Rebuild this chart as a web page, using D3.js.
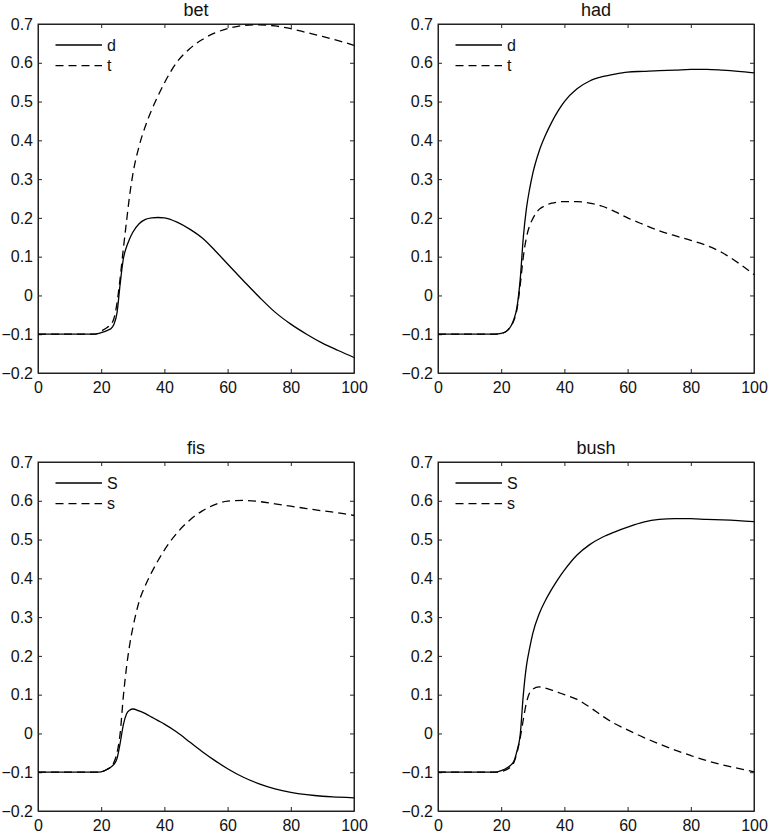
<!DOCTYPE html>
<html>
<head>
<meta charset="utf-8">
<script src="https://cdn.jsdelivr.net/npm/d3@7"></script>
<style>
  body { margin: 0; background: #fff; }
  svg { display: block; font-family: "Liberation Sans", Arial, sans-serif; }
</style>
</head>
<body>
<div id="chart"></div>
<script>
// shared x grid of the sampled points
const xs = [0, 18, 20, 22, 23, 24, 25, 26, 27, 28, 29, 30, 32, 34, 36, 38, 40, 44, 48, 52, 56, 60, 65, 70, 75, 80, 85, 90, 95, 100];

const betD = [-0.1, -0.1, -0.096, -0.09, -0.086, -0.075, -0.045, 0.03, 0.094, 0.125, 0.146, 0.163, 0.185, 0.196, 0.2, 0.201, 0.2, 0.189, 0.171, 0.148, 0.116, 0.081, 0.038, -0.004, -0.043, -0.074, -0.1, -0.123, -0.142, -0.16];
const betT = [-0.1, -0.1, -0.092, -0.082, -0.075, -0.06, -0.02, 0.045, 0.12, 0.19, 0.258, 0.312, 0.385, 0.437, 0.479, 0.515, 0.548, 0.602, 0.636, 0.66, 0.677, 0.688, 0.696, 0.698, 0.695, 0.688, 0.678, 0.668, 0.657, 0.645];

const hadD = [-0.1, -0.1, -0.098, -0.09, -0.08, -0.062, -0.03, 0.04, 0.15, 0.225, 0.275, 0.315, 0.372, 0.413, 0.447, 0.476, 0.5, 0.533, 0.553, 0.564, 0.571, 0.576, 0.578, 0.58, 0.581, 0.583, 0.583, 0.581, 0.578, 0.574];
const hadT = [-0.1, -0.1, -0.098, -0.09, -0.08, -0.065, -0.035, 0.025, 0.1, 0.15, 0.18, 0.198, 0.222, 0.232, 0.238, 0.241, 0.242, 0.242, 0.238, 0.23, 0.216, 0.2, 0.183, 0.167, 0.154, 0.142, 0.129, 0.11, 0.084, 0.054];

const fisS = [-0.1, -0.1, -0.099, -0.092, -0.087, -0.08, -0.065, -0.025, 0.022, 0.05, 0.06, 0.063, 0.058, 0.051, 0.042, 0.033, 0.024, 0.003, -0.022, -0.047, -0.07, -0.091, -0.113, -0.13, -0.143, -0.152, -0.158, -0.162, -0.164, -0.166];
const fisLow = [-0.1, -0.1, -0.099, -0.092, -0.087, -0.075, -0.05, 0.0, 0.095, 0.17, 0.228, 0.272, 0.34, 0.382, 0.416, 0.446, 0.473, 0.517, 0.55, 0.574, 0.59, 0.599, 0.601, 0.598, 0.592, 0.586, 0.58, 0.574, 0.569, 0.562];

const bushS = [-0.1, -0.1, -0.096, -0.088, -0.082, -0.072, -0.045, -0.005, 0.1, 0.175, 0.22, 0.258, 0.308, 0.343, 0.372, 0.398, 0.421, 0.46, 0.487, 0.506, 0.52, 0.532, 0.545, 0.552, 0.554, 0.554, 0.552, 0.551, 0.549, 0.546];
const bushLow = [-0.1, -0.1, -0.098, -0.092, -0.086, -0.075, -0.05, -0.012, 0.036, 0.08, 0.105, 0.114, 0.12, 0.117, 0.112, 0.106, 0.1, 0.088, 0.068, 0.045, 0.025, 0.009, -0.01, -0.027, -0.043, -0.057, -0.07, -0.081, -0.09, -0.099];

const titles = ['bet', 'had', 'fis', 'bush'];
const legendNames = [['d', 't'], ['d', 't'], ['S', 's'], ['S', 's']];
const panelSeries = [[betD, betT], [hadD, hadT], [fisS, fisLow], [bushS, bushLow]];

const xTicks = [0, 20, 40, 60, 80, 100];
const yTicks = [-0.2, -0.1, 0, 0.1, 0.2, 0.3, 0.4, 0.5, 0.6, 0.7];

const width = 768, height = 837;
const panelW = 316, panelH = 349;
const lefts = [38, 438], tops = [24, 462];

const svg = d3.select('#chart').append('svg')
  .attr('width', width)
  .attr('height', height);

const fmt = d3.format('~f');

titles.forEach((title, i) => {
  const left = lefts[i % 2], top = tops[Math.floor(i / 2)];
  const g = svg.append('g').attr('transform', `translate(${left},${top})`);

  const x = d3.scaleLinear().domain([0, 100]).range([0, panelW]);
  const y = d3.scaleLinear().domain([-0.2, 0.7]).range([panelH, 0]);

  // axes with inward ticks on all four sides
  g.append('g')
    .attr('transform', `translate(0,${panelH})`)
    .call(d3.axisBottom(x).tickValues(xTicks).tickFormat(fmt).tickSizeInner(-4).tickSizeOuter(0).tickPadding(9));
  g.append('g')
    .call(d3.axisTop(x).tickValues(xTicks).tickFormat('').tickSizeInner(-4).tickSizeOuter(0));
  g.append('g')
    .call(d3.axisLeft(y).tickValues(yTicks).tickFormat(fmt).tickSizeInner(-4).tickSizeOuter(0).tickPadding(5));
  g.append('g')
    .attr('transform', `translate(${panelW},0)`)
    .call(d3.axisRight(y).tickValues(yTicks).tickFormat('').tickSizeInner(-4).tickSizeOuter(0));

  g.selectAll('.domain').attr('stroke', '#222');
  g.selectAll('.tick line').attr('stroke', '#222');
  g.selectAll('.tick text').attr('fill', '#111').style('font-size', '16px');

  g.append('rect')
    .attr('width', panelW)
    .attr('height', panelH)
    .attr('fill', 'none')
    .attr('stroke', '#222');

  // title
  g.append('text')
    .attr('x', panelW / 2)
    .attr('y', -8)
    .attr('text-anchor', 'middle')
    .style('font-size', '18px')
    .attr('fill', '#111')
    .text(title);

  const line = d3.line()
    .x(d => x(d[0]))
    .y(d => y(d[1]))
    .curve(d3.curveMonotoneX);

  panelSeries[i].forEach((vals, k) => {
    g.append('path')
      .datum(xs.map((xv, j) => [xv, vals[j]]))
      .attr('fill', 'none')
      .attr('stroke', '#000')
      .attr('stroke-width', 1.3)
      .attr('stroke-dasharray', k === 1 ? '8,5' : null)
      .attr('d', line);
  });

  // legend
  const leg = g.append('g');
  legendNames[i].forEach((name, k) => {
    const ly = 21 + k * 20.6;
    leg.append('line')
      .attr('x1', 17.5).attr('x2', 64)
      .attr('y1', ly).attr('y2', ly)
      .attr('stroke', '#000')
      .attr('stroke-width', 1.3)
      .attr('stroke-dasharray', k === 1 ? '8,5' : null);
    leg.append('text')
      .attr('x', 69)
      .attr('y', ly + 5.5)
      .style('font-size', '16px')
      .attr('fill', '#111')
      .text(name);
  });
});
</script>
</body>
</html>
